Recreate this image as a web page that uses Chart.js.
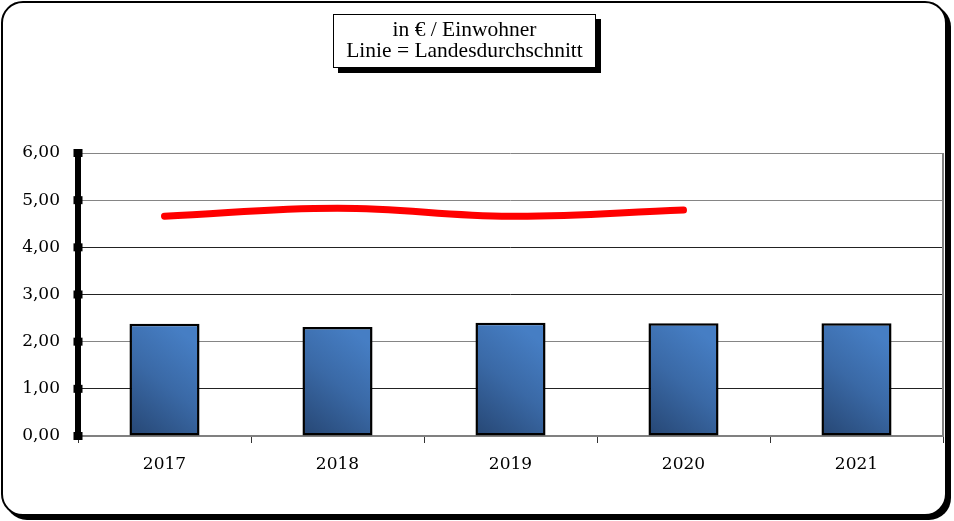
<!DOCTYPE html>
<html>
<head>
<meta charset="utf-8">
<script src="https://cdn.jsdelivr.net/npm/chart.js@4"></script>
<style>
html, body { margin: 0; padding: 0; background: #fff; }
#wrap { position: relative; width: 954px; height: 521px; overflow: hidden; }
#frame { position: absolute; left: 1px; top: 1px; width: 942px; height: 511px;
  border: 2px solid #000; border-radius: 22px; box-shadow: 4px 4px 0 #000; background: #fff; }
#graph { position: absolute; left: 0; top: 0; }
#title { position: absolute; left: 333px; top: 14px; width: 261px; height: 48px; padding-top: 4px;
  border: 1px solid #000; background: #fff; box-shadow: 5px 5px 0 #000;
  font-family: "Liberation Serif", serif; font-size: 21.5px; line-height: 21px; text-align: center; color: #000; }
</style>
</head>
<body>
<div id="wrap">
  <div id="frame"></div>
  <canvas id="graph" width="954" height="521"></canvas>
  <div id="title">in € / Einwohner<br>Linie = Landesdurchschnitt</div>
</div>
<script>
const years        = ['2017', '2018', '2019', '2020', '2021'];
const perResident  = [2.38, 2.31, 2.40, 2.39, 2.39];   // bars
const stateAverage = [4.66, 4.83, 4.66, 4.79, null];   // red line
const yMin = 0, yMax = 6, yStep = 1;

const fmt = v => v.toFixed(2).replace('.', ',');
const tickFont = { family: 'DejaVu Serif', size: 17 };

// bar fill: dark bottom-left to lighter top-right
function barFill(c) {
  const chart = c.chart;
  if (!chart.chartArea || c.dataIndex === undefined) return '#3b6aa8';
  const xs = chart.scales.x, ys = chart.scales.y;
  const cx = xs.getPixelForValue(c.dataIndex);
  const bottom = ys.getPixelForValue(0);
  const g = chart.ctx.createLinearGradient(cx - 35, bottom, cx + 35, bottom - 90);
  g.addColorStop(0, '#264673');
  g.addColorStop(0.55, '#3a69a6');
  g.addColorStop(1, '#467ec4');
  return g;
}

// thick value axis with square marks + right edge of plot area
const frameLines = {
  id: 'frameLines',
  afterDraw(chart) {
    const { ctx, chartArea } = chart;
    const ys = chart.scales.y;
    ctx.save();
    ctx.strokeStyle = '#808080';
    ctx.lineWidth = 2;
    ctx.beginPath();
    ctx.moveTo(chartArea.right, chartArea.top);
    ctx.lineTo(chartArea.right, chartArea.bottom);
    ctx.stroke();
    const x = chartArea.left;
    ctx.fillStyle = '#000';
    ctx.fillRect(x - 3, chartArea.top - 3, 6, chartArea.bottom - chartArea.top + 6);
    ys.ticks.forEach(t => {
      const y = ys.getPixelForValue(t.value);
      ctx.fillRect(x - 4.5, y - 4, 9, 8);
    });
    ctx.restore();
  }
};

const chart = new Chart(document.getElementById('graph'), {
  data: {
    labels: years,
    datasets: [{
      type: 'line',
      data: stateAverage,
      borderColor: '#ff0000',
      borderWidth: 7,
      borderCapStyle: 'round',
      tension: 0.4,
      pointRadius: 0,
      spanGaps: false,
      order: 0,
    }, {
      type: 'bar',
      data: perResident,
      backgroundColor: barFill,
      borderColor: '#000',
      borderWidth: 2.5,
      borderSkipped: false,
      categoryPercentage: 1,
      barPercentage: 0.405,
      order: 1,
    }],
  },
  options: {
    responsive: false,
    animation: false,
    devicePixelRatio: 1,
    layout: { padding: { top: 153, right: 11, left: 0, bottom: 0 } },
    plugins: {
      legend: { display: false },
      tooltip: { enabled: false },
    },
    scales: {
      x: {
        afterFit: s => { s.height = 85; },
        grid: { offset: true, drawOnChartArea: false, color: '#333', tickLength: 7, lineWidth: 1 },
        border: { color: '#808080', width: 2 },
        ticks: { color: '#000', padding: 11, font: tickFont },
      },
      y: {
        min: yMin, max: yMax,
        afterFit: s => { s.width = 78; },
        grid: {
          color: c => [2, 5, 6].includes(c.tick.value) ? '#858585' : '#222',
          lineWidth: 1,
          drawTicks: false,
        },
        border: { display: false },
        ticks: {
          stepSize: yStep,
          color: '#000',
          padding: 18,
          font: tickFont,
          callback: v => fmt(v),
        },
      },
    },
  },
  plugins: [frameLines],
});
</script>
</body>
</html>
